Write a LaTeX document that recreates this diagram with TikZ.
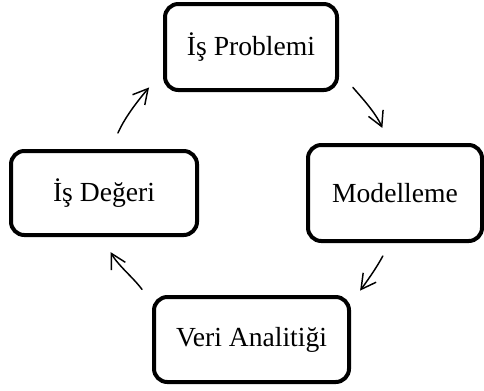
\documentclass[tikz,border=0pt]{standalone}
\usepackage{fontspec}
\setmainfont{Liberation Serif}
\usepackage{tikz}
\usetikzlibrary{arrows.meta}

\begin{document}
\begin{tikzpicture}[x=0.75pt,y=0.75pt]
\useasboundingbox (0,0) rectangle (484,-390);
%\tikzstyle{kutu}=[draw,rounded corners=10pt,line width=3pt]
\begin{scope}[every node/.style={draw,rounded corners=10pt,line width=3pt,outer sep=0pt,font=\fontsize{20.7}{24}\selectfont}]
    \node[minimum width=129pt,minimum height=64.5pt] (a) at (251,-47) {İş Problemi};
    \node[minimum width=130.5pt,minimum height=72pt] (b) at (395,-193) {Modelleme};
    \node[minimum width=146.25pt,minimum height=63.75pt] (c) at (251.5,-339.5) {Veri Analitiği};
    \node[minimum width=139.5pt,minimum height=63pt] (d) at (104,-193) {İş Değeri};
\end{scope}

\begin{scope}[>={Straight Barb[length=11pt,width=12pt]},every edge/.style={draw=black,line width=1.1pt,line cap=round}]
    \path [->] (d.82) edge[out=66,in=230,shorten <=14.8pt,shorten >=18.6pt] (a.194);
    \path [->] (a.346) edge[out=-50,in=114,shorten <=18.6pt,shorten >=14pt] (b.96);
    \path [->] (b.265) edge[out=242,in=54,shorten <=12.75pt,shorten >=14.2pt] (c.19);
    \path [->] (c.161) edge[out=126,in=299,shorten <=15.3pt,shorten >=14.6pt] (d.266);
\end{scope}
\end{tikzpicture}
\end{document}
